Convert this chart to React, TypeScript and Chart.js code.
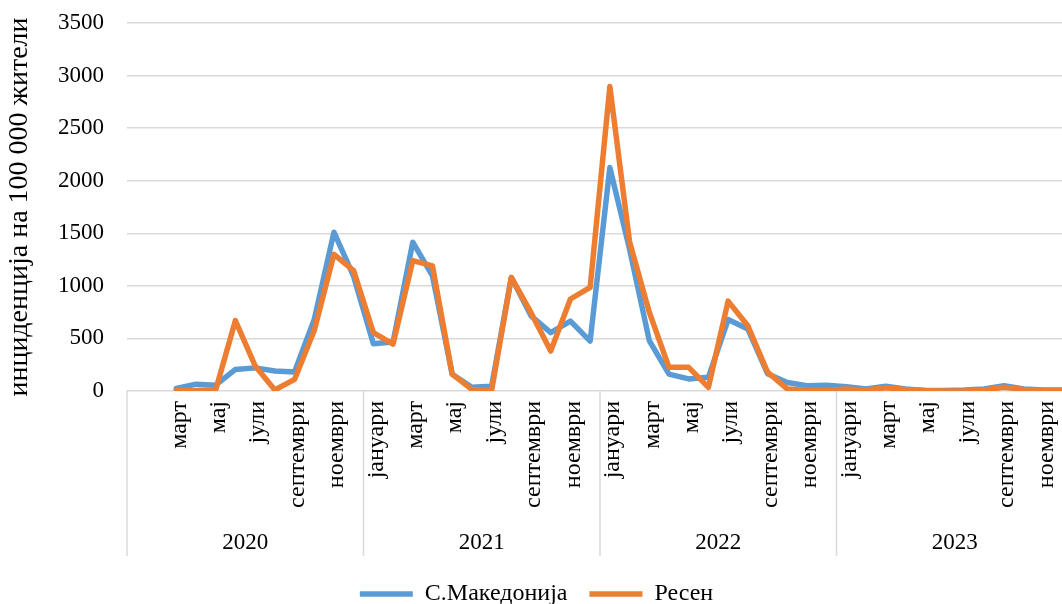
import React, { useEffect, useRef } from 'react';
import { Chart, registerables } from 'chart.js';

Chart.register(...registerables);

// ---------- data ----------
const years = ['2020', '2021', '2022', '2023'];
const monthNames = [
  'јануари', 'февруари', 'март', 'април', 'мај', 'јуни',
  'јули', 'август', 'септември', 'октомври', 'ноември', 'декември',
];
// In the source the first category (January 2020) carries no label
const categoryLabels = years.flatMap((y, yi) =>
  monthNames.map((m, mi) => (yi === 0 && mi === 0 ? '' : m))
);

const seriesNames = ['С.Македонија', 'Ресен'];

const macedonia = [
  null, null, 25, 65, 55, 205, 220, 190, 180, 680, 1510, 1090,
  450, 465, 1415, 1095, 160, 35, 45, 1080, 715, 555, 665, 475,
  2125, 1350, 480, 160, 115, 130, 680, 590, 165, 80, 50, 55,
  40, 20, 45, 20, 5, 5, 10, 20, 50, 20, 10, 10,
];

const resen = [
  null, null, 5, 5, 10, 670, 240, 10, 110, 575, 1300, 1145,
  555, 445, 1240, 1190, 160, 15, 5, 1080, 745, 380, 875, 985,
  2895, 1420, 750, 225, 225, 35, 855, 620, 180, 20, 5, 5,
  20, 10, 30, 15, 5, 0, 0, 10, 35, 15, 5, 5,
];

const yMin = 0;
const yMax = 3500;
const yStep = 500;
const yTitle = 'инциденција на 100 000 жители';

// ---------- styles ----------
const FONT = "'Liberation Serif', 'Times New Roman', serif";
const BLUE = '#5B9BD5';
const ORANGE = '#ED7D31';
const GRID = '#D9D9D9';
const TEXT = '#000000';

const yearGroupPlugin = {
  id: 'yearGroups',
  afterDraw(chart: any) {
    const xs = chart.scales.x;
    const ctx = chart.ctx;
    const base = chart.chartArea.bottom;
    const half = (xs.getPixelForValue(1) - xs.getPixelForValue(0)) / 2;
    ctx.save();
    ctx.strokeStyle = GRID;
    ctx.lineWidth = 1.5;
    ctx.fillStyle = TEXT;
    ctx.font = `23px ${FONT}`;
    ctx.textAlign = 'center';
    ctx.textBaseline = 'middle';
    years.forEach((yr, i) => {
      const start = xs.getPixelForValue(i * 12) - half;
      const end = xs.getPixelForValue(i * 12 + 11) + half;
      ctx.beginPath();
      ctx.moveTo(start, base);
      ctx.lineTo(start, base + 165);
      ctx.stroke();
      if (i === years.length - 1) {
        ctx.beginPath();
        ctx.moveTo(end, base);
        ctx.lineTo(end, base + 165);
        ctx.stroke();
      }
      ctx.fillText(yr, (start + end) / 2, base + 152);
    });
    ctx.restore();
  },
};

export default function App() {
  const ref = useRef<HTMLCanvasElement | null>(null);

  useEffect(() => {
    if (!ref.current) return;
    const chart = new Chart(ref.current, {
      type: 'line',
      data: {
        labels: categoryLabels,
        datasets: [
          {
            label: seriesNames[0],
            data: macedonia,
            borderColor: BLUE,
            backgroundColor: BLUE,
            borderWidth: 5.5,
            pointRadius: 0,
            tension: 0,
            borderCapStyle: 'round',
            borderJoinStyle: 'round',
            order: 1,
          },
          {
            label: seriesNames[1],
            data: resen,
            borderColor: ORANGE,
            backgroundColor: ORANGE,
            borderWidth: 5.5,
            pointRadius: 0,
            tension: 0,
            borderCapStyle: 'round',
            borderJoinStyle: 'round',
            order: 0,
          },
        ],
      },
      options: {
        animation: false,
        responsive: false,
        maintainAspectRatio: false,
        layout: { padding: { top: 23, right: 7, left: 0, bottom: 0 } },
        plugins: {
          tooltip: { enabled: false },
          legend: {
            position: 'bottom',
            labels: {
              usePointStyle: true,
              pointStyle: 'line',
              pointStyleWidth: 53,
              padding: 22,
              color: TEXT,
              font: { family: FONT, size: 24 },
              sort: (a: any, b: any) => a.datasetIndex - b.datasetIndex,
            },
          },
        },
        scales: {
          x: {
            type: 'category',
            offset: true,
            grid: { display: false, drawTicks: false },
            border: { display: false },
            ticks: {
              autoSkip: false,
              maxRotation: 90,
              minRotation: 90,
              padding: 10,
              labelOffset: 3,
              color: TEXT,
              font: { family: FONT, size: 24 },
              callback: (_v: any, i: number) => (i % 2 === 0 ? categoryLabels[i] : ''),
            },
            afterFit: (s: any) => {
              s.height = 169;
              s.paddingLeft = 0;
              s.paddingRight = 0;
            },
          },
          y: {
            min: yMin,
            max: yMax,
            grid: { color: GRID, lineWidth: 1.5, drawTicks: false },
            border: { display: false },
            ticks: {
              stepSize: yStep,
              padding: 23,
              color: TEXT,
              font: { family: FONT, size: 23 },
              callback: (v: any) => String(v),
            },
            title: {
              display: true,
              text: yTitle,
              color: TEXT,
              font: { family: FONT, size: 28 },
              padding: { top: 3, bottom: 0 },
            },
            afterFit: (s: any) => {
              s.width = 127;
              s.paddingTop = 0;
              s.paddingBottom = 0;
            },
          },
        },
      },
      plugins: [yearGroupPlugin],
    });
    return () => chart.destroy();
  }, []);

  return (
    <div
      style={{
        position: 'fixed',
        left: 0,
        top: 0,
        width: 1062,
        height: 604,
        overflow: 'hidden',
        background: '#ffffff',
      }}
    >
      <canvas ref={ref} width={1080} height={616} style={{ display: 'block' }} />
    </div>
  );
}
